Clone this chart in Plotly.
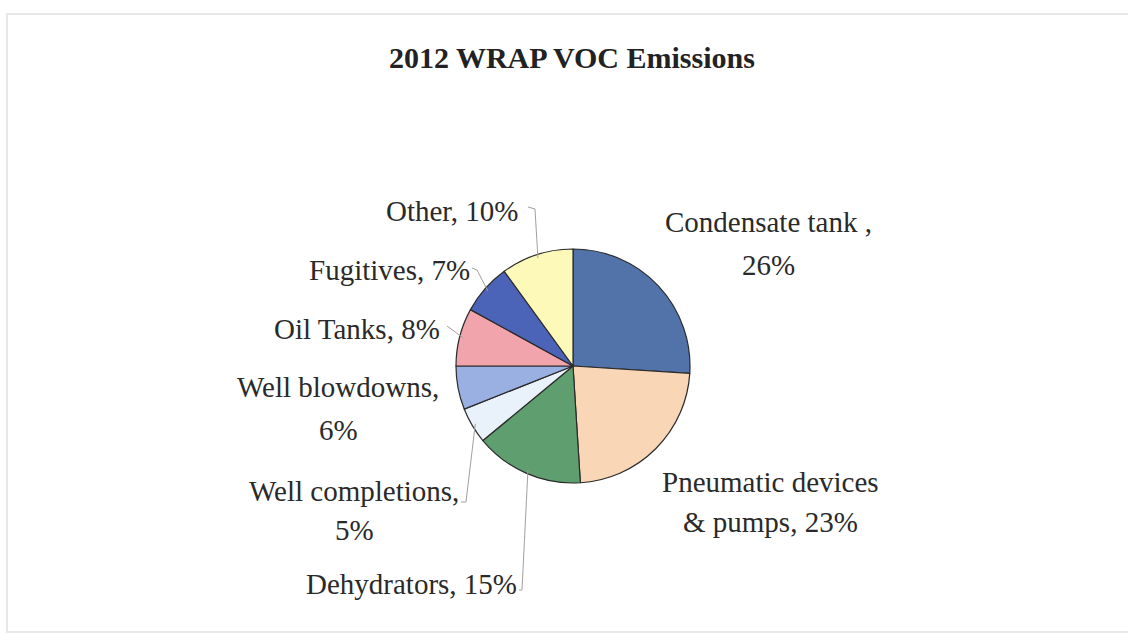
import math
import plotly.graph_objects as go

# ---- data ----
categories = ["Condensate tank ,", "Pneumatic devices & pumps", "Dehydrators",
              "Well completions", "Well blowdowns", "Oil Tanks", "Fugitives", "Other"]
values = [26, 23, 15, 5, 6, 8, 7, 10]
label_lines = [
    ["Condensate tank ,", "26%"],
    ["Pneumatic devices", "& pumps, 23%"],
    ["Dehydrators, 15%"],
    ["Well completions,", "5%"],
    ["Well blowdowns,", "6%"],
    ["Oil Tanks, 8%"],
    ["Fugitives, 7%"],
    ["Other, 10%"],
]
colors = ["#5272AA", "#F8D6B6", "#5F9E6F", "#E9F2FB", "#9AB0E2",
          "#F2A4AC", "#4B64B8", "#FDF9B8"]
title = "2012 WRAP VOC Emissions"

# ---- layout (pixels) ----
W, H = 1128, 635
CX, CY, R = 573, 366, 117
FONT = "Liberation Serif"
FS = 29

def px(x):
    return x / W

def py(y):
    return 1 - y / H

fig = go.Figure(go.Pie(
    labels=categories, values=values, sort=False, direction="clockwise",
    rotation=0, textinfo="none", hoverinfo="label+percent",
    marker=dict(colors=colors, line=dict(color="#2b2b2b", width=1.2)),
    domain=dict(x=[px(CX - R), px(CX + R)], y=[py(CY + R), py(CY - R)]),
    showlegend=False,
))

# label text positions: (x center, [y per line])
label_pos = [
    (768, [222, 265]),
    (771, [482, 522]),
    (411, [584]),
    (354, [491, 530]),
    (338, [387, 430]),
    (357, [329]),
    (389, [270]),
    (452, [211]),
]

annotations = []
for lines, (lx, ys) in zip(label_lines, label_pos):
    for t, yy in zip(lines, ys):
        annotations.append(dict(x=px(lx), y=py(yy), xref="paper", yref="paper",
                                text=t, showarrow=False, xanchor="center", yanchor="middle",
                                font=dict(family=FONT, size=FS, color="#2a2a2a")))
annotations.append(dict(x=px(572), y=py(57), xref="paper", yref="paper", text="<b>" + title + "</b>",
                        showarrow=False, xanchor="center", yanchor="middle",
                        font=dict(family=FONT, size=30, color="#222222")))

# leader lines: label attach points (elbow) -> slice edge mid point computed from values
total = sum(values)
cum = 0
mids = []
for v in values:
    mids.append((cum + v / 2) / total * 2 * math.pi)
    cum += v

def edge(i, k=1.0):
    a = mids[i]
    return CX + R * k * math.sin(a), CY - R * k * math.cos(a)

leaders = {
    7: [(528, 207), (535, 209)],
    6: [(472, 268), (477, 270)],
    5: [(447, 326)],
    3: [(461, 502), (466, 502)],
    2: [(519, 590), (522, 590)],
}
shapes = []
for i, pts in leaders.items():
    ex, ey = edge(i, 0.97)
    pts = pts + [(ex, ey)]
    path = "M " + " L ".join(f"{px(x):.5f},{py(y):.5f}" for x, y in pts)
    shapes.append(dict(type="path", path=path, xref="paper", yref="paper",
                       line=dict(color="#a0a0a0", width=1)))

# faint frame of the scanned page
shapes.append(dict(type="rect", xref="paper", yref="paper", x0=px(7), x1=px(1130), y0=py(632), y1=py(14),
                   line=dict(color="#e8e8e8", width=2)))

fig.update_layout(
    width=W, height=H, margin=dict(l=0, r=0, t=0, b=0),
    paper_bgcolor="white", plot_bgcolor="white",
    annotations=annotations, shapes=shapes,
)

fig.write_html("out.html")
